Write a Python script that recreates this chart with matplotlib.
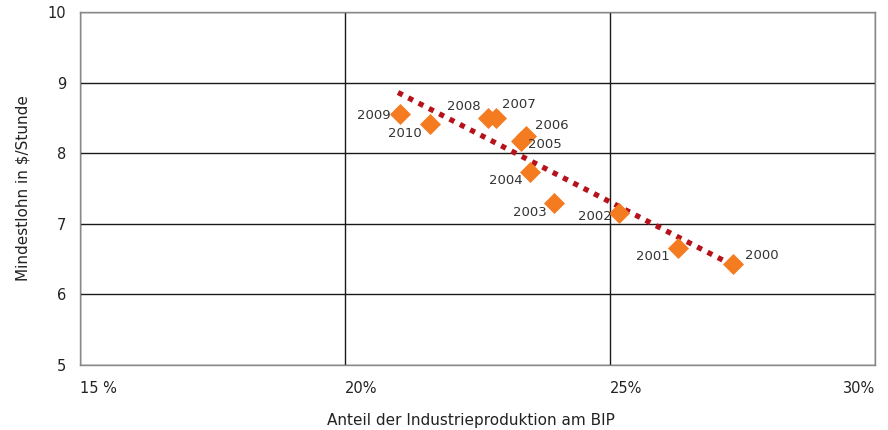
import numpy as np
import matplotlib.pyplot as plt

years = ['2000', '2001', '2002', '2003', '2004', '2005', '2006', '2007', '2008', '2009', '2010']
industry_share = [27.32, 26.28, 25.17, 23.94, 23.49, 23.32, 23.42, 22.85, 22.70, 21.04, 21.60]
min_wage = [6.43, 6.66, 7.16, 7.30, 7.74, 8.17, 8.24, 8.50, 8.50, 8.56, 8.41]
trend_x = [21.0, 27.35]
trend_y = [8.86, 6.40]

# label offsets in pixels (dx, dy), alignment
label_pos = {
    '2000': (12, 9, 'left'), '2001': (-8, -9, 'right'), '2002': (-7, -4, 'right'),
    '2003': (-7, -10, 'right'), '2004': (-7, -9, 'right'), '2005': (7, -3, 'left'),
    '2006': (9, 11, 'left'), '2007': (6, 13, 'left'), '2008': (-7, 11, 'right'),
    '2009': (-9, -2, 'right'), '2010': (-8, -9, 'right'),
}

fig = plt.figure(figsize=(8.88, 4.3), dpi=100)
ax = fig.add_axes([80/888, 65/430, 795/888, 353/430])
ax.set_xlim(15, 30)
ax.set_ylim(5, 10)
ax.set_xticks([15, 20, 25, 30])
ax.set_yticks([5, 6, 7, 8, 9, 10])
ax.grid(True, color='#1a1a1a', linewidth=1.0)
ax.set_axisbelow(True)
for s in ax.spines.values():
    s.set_color('#888888')
    s.set_linewidth(1.0)
ax.tick_params(length=0, labelsize=10.5, colors='#222222')
ax.tick_params(axis='y', pad=10)
ax.set_xticklabels([])
for v, t in zip([15, 20, 25, 30], ['15 %', '20%', '25%', '30%']):
    ax.text(v, -0.045, t, transform=ax.get_xaxis_transform(), ha='right' if v == 30 else 'left',
            va='top', fontsize=10.5, color='#222222')

ax.plot(trend_x, trend_y, color='#B5121B', linewidth=3.8, linestyle=(0, (1, 1.2)), zorder=3)
ax.scatter(industry_share, min_wage, marker='D', s=115, color='#F47B20', zorder=4, linewidths=0)

for y, xv, yv in zip(years, industry_share, min_wage):
    dx, dy, ha = label_pos[y]
    ax.annotate(y, (xv, yv), xytext=(dx * 0.72, dy * 0.72), textcoords='offset points',
                ha=ha, va='center', fontsize=9.5, color='#333333', zorder=5)

ax.set_ylabel('Mindestlohn in $/Stunde', fontsize=11, color='#222222', labelpad=12)
fig.text(0.53, 0.023, 'Anteil der Industrieproduktion am BIP', ha='center', va='center',
         fontsize=11, color='#222222')
fig.savefig('out.png', dpi=100)
